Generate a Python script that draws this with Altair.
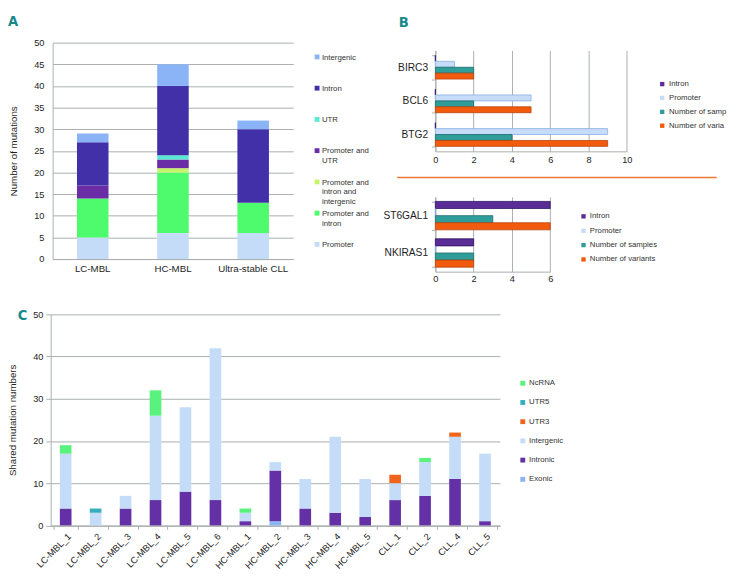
import altair as alt
import pandas as pd

FONT = "Liberation Sans"
LETTER_FONT = "Liberation Sans Narrow, DejaVu Sans Condensed, Liberation Sans"
TEAL = "#17898A"
GRID = "#A9ADAD"
AXIS_TXT = "#1E1E1E"
LEG_TXT = "#333333"

# ---------------- Panel A data ----------------
a_groups = ["LC-MBL", "HC-MBL", "Ultra-stable CLL"]
a_cats = ["Promoter", "Promoter and intron", "Promoter and intron and intergenic",
          "Promoter and UTR", "UTR", "Intron", "Intergenic"]
a_colors = ["#C5DCF8", "#4EFB6C", "#C8F46C", "#6A2DA6", "#5DE8D3", "#4130A8", "#8AB4F6"]
a_promoter = [5, 6, 6]
a_prom_intron = [9, 14, 7]
a_prom_intron_interg = [0, 1, 0]
a_prom_utr = [3, 2, 0]
a_utr = [0, 1, 0]
a_intron = [10, 16, 17]
a_intergenic = [2, 5, 2]

# ---------------- Panel B data ----------------
b_series = ["Intron", "Promoter", "Number of samples", "Number of variants"]
b_colors = ["#5A2C96", "#C7DCF8", "#2F9D99", "#F25B0D"]
b_strokes = ["#2C1262", "#86AEE6", "#1D6B67", "#B8420A"]
bt_genes = ["BIRC3", "BCL6", "BTG2"]
bt_intron = [0, 0, 0]
bt_promoter = [1, 5, 9]
bt_samples = [2, 2, 4]
bt_variants = [2, 5, 9]
bb_genes = ["ST6GAL1", "NKIRAS1"]
bb_intron = [6, 2]
bb_promoter = [0, 0]
bb_samples = [3, 2]
bb_variants = [6, 2]

# ---------------- Panel C data ----------------
c_samples = ["LC-MBL_1", "LC-MBL_2", "LC-MBL_3", "LC-MBL_4", "LC-MBL_5", "LC-MBL_6",
             "HC-MBL_1", "HC-MBL_2", "HC-MBL_3", "HC-MBL_4", "HC-MBL_5",
             "CLL_1", "CLL_2", "CLL_4", "CLL_5"]
c_cats = ["Exonic", "Intronic", "Intergenic", "UTR3", "UTR5", "NcRNA"]
c_colors = ["#8AB4F2", "#6430A6", "#C5DCF8", "#F0641E", "#35AFBC", "#58F27C"]
c_exonic = [0, 0, 0, 0, 0, 0, 0, 1, 0, 0, 0, 0, 0, 0, 0]
c_intronic = [4, 0, 4, 6, 8, 6, 1, 12, 4, 3, 2, 6, 7, 11, 1]
c_intergenic = [13, 3, 3, 20, 20, 36, 2, 2, 7, 18, 9, 4, 8, 10, 16]
c_utr3 = [0, 0, 0, 0, 0, 0, 0, 0, 0, 0, 0, 2, 0, 1, 0]
c_utr5 = [0, 1, 0, 0, 0, 0, 0, 0, 0, 0, 0, 0, 0, 0, 0]
c_ncrna = [2, 0, 0, 6, 0, 0, 1, 0, 0, 0, 0, 0, 1, 0, 0]


def frame(x1, x2, y1, y2):
    # invisible box that fixes the extent of a panel in the layout
    return alt.Chart(pd.DataFrame({"f": [0]})).mark_rect(
        fillOpacity=0, strokeOpacity=0
    ).encode(x=alt.value(x1), x2=alt.value(x2), y=alt.value(y1), y2=alt.value(y2))


def letter(ch, x, y):
    return alt.Chart(pd.DataFrame({"t": [ch]})).mark_text(
        font=LETTER_FONT, fontSize=15, fontWeight="bold", color=TEAL,
        align="center", baseline="middle"
    ).encode(text="t:N", x=alt.value(x), y=alt.value(y))


def spacer(*extra):
    return alt.layer(frame(0, 1, 0, 1), *extra).properties(width=1, height=1)


# ---------------- Panel A ----------------
A_W, A_H = 248, 223
a_rows = []
for k, (cat, vals) in enumerate(zip(a_cats, [a_promoter, a_prom_intron, a_prom_intron_interg,
                                             a_prom_utr, a_utr, a_intron, a_intergenic])):
    for g, v in zip(a_groups, vals):
        a_rows.append({"group": g, "a_region": cat, "a_n": v, "a_k": k})
a_df = pd.DataFrame(a_rows)

a_label_expr = ("datum.label == 'Promoter and UTR' ? ['Promoter and', 'UTR'] : "
                "datum.label == 'Promoter and intron and intergenic' ? "
                "['Promoter and', 'intron and', 'intergenic'] : "
                "datum.label == 'Promoter and intron' ? ['Promoter and', 'intron'] : datum.label")

a_bars = alt.Chart(a_df).mark_bar(size=32.5).encode(
    x=alt.X("group:N", sort=a_groups, title=None,
            axis=alt.Axis(labelAngle=0, ticks=False, domainColor=GRID, labelFontSize=10,
                          labelPadding=5, labelColor=AXIS_TXT)),
    y=alt.Y("a_n:Q", stack="zero", scale=alt.Scale(domain=[0, 50], nice=False),
            axis=alt.Axis(values=list(range(0, 51, 5)), title="Number of mutations",
                          titleFontSize=10, titleFontWeight="normal", titlePadding=16,
                          titleColor=AXIS_TXT, labelFontSize=9.5, labelPadding=9, ticks=False,
                          labelFlush=False, domainColor=GRID, gridColor=GRID,
                          labelColor=AXIS_TXT)),
    color=alt.Color("a_region:N", scale=alt.Scale(domain=a_cats[::-1], range=a_colors[::-1]),
                    legend=alt.Legend(title=None, orient="none", legendX=A_W + 20.5, legendY=13.6,
                                      symbolType="M-1,-2.16H1V-0.16H-1Z", symbolSize=25,
                                      symbolStrokeWidth=0, labelFontSize=8,
                                      labelBaseline="alphabetic", labelOffset=1,
                                      gridAlign="all", rowPadding=4.2, labelExpr=a_label_expr,
                                      labelColor=LEG_TXT, padding=0, labelLimit=300)),
    order=alt.Order("a_k:Q"),
)
panel_a = alt.layer(frame(-46, 300, -29, 245), a_bars, letter("A", -40.7, -22)).properties(
    width=A_W, height=A_H)


# ---------------- Panel B ----------------
def b_frame_df(genes, series_vals, p):
    rows = []
    for s, vals in zip(b_series, series_vals):
        for g, v in zip(genes, vals):
            rows.append({p + "gene": g, p + "series": s, p + "n": v})
    return pd.DataFrame(rows)


def b_bars(df, p, genes, xmax, pad_inner, lab_pad, legend):
    return alt.Chart(df).mark_bar(strokeWidth=0.8).encode(
        y=alt.Y(p + "gene:N", sort=genes, title=None,
                scale=alt.Scale(paddingInner=pad_inner, paddingOuter=pad_inner / 2),
                axis=alt.Axis(labelFontSize=10.5, labelColor=AXIS_TXT, domainColor=GRID,
                              tickColor=GRID, tickBand="extent", tickSize=4, labelPadding=4)),
        yOffset=alt.YOffset(p + "series:N", sort=b_series,
                            scale=alt.Scale(paddingInner=0, paddingOuter=0)),
        x=alt.X(p + "n:Q", scale=alt.Scale(domain=[0, xmax], nice=False), title=None,
                axis=alt.Axis(values=list(range(0, xmax + 1, 2)), grid=True, gridColor=GRID,
                              domainColor=GRID, ticks=False, labelFontSize=9.5, labelFlush=False,
                              labelPadding=lab_pad, labelColor=AXIS_TXT)),
        color=alt.Color(p + "series:N", scale=alt.Scale(domain=b_series, range=b_colors),
                        legend=legend),
        stroke=alt.Stroke(p + "series:N", scale=alt.Scale(domain=b_series, range=b_strokes),
                          legend=None),
    )


bt_df = b_frame_df(bt_genes, [bt_intron, bt_promoter, bt_samples, bt_variants], "bt_")
bb_df = b_frame_df(bb_genes, [bb_intron, bb_promoter, bb_samples, bb_variants], "bb_")

bt_label_expr = ("datum.label == 'Number of samples' ? 'Number of samp' : "
                 "datum.label == 'Number of variants' ? 'Number of varia' : datum.label")

BT_W, BT_H = 197.3, 104
BB_W, BB_H = 118.4, 77

bt_legend = alt.Legend(title=None, orient="none", legendX=229.8, legendY=30.7, symbolType="square",
                       symbolSize=20, symbolStrokeWidth=0, labelFontSize=8, labelOffset=3,
                       rowPadding=6.3, labelExpr=bt_label_expr, labelColor=LEG_TXT, padding=0)
bb_legend = alt.Legend(title=None, orient="none", legendX=148.7, legendY=16, symbolType="square",
                       symbolSize=20, symbolStrokeWidth=0, labelFontSize=8, labelOffset=2.5,
                       rowPadding=6.8, labelColor=LEG_TXT, padding=0)

divider = alt.Chart(pd.DataFrame({"r": [0]})).mark_rule(color="#F07A3A", strokeWidth=1.5).encode(
    x=alt.value(-39.3), x2=alt.value(290), y=alt.value(-20))

panel_bt = alt.layer(frame(-58, 200, -6, 124.3),
                     b_bars(bt_df, "bt_", bt_genes, 10, 0.296, 4, bt_legend)).properties(
    width=BT_W, height=BT_H)
panel_bb = alt.layer(frame(-58, 100, -26, BB_H + 30), divider,
                     b_bars(bb_df, "bb_", bb_genes, 6, 0.24, 2.5, bb_legend)).properties(
    width=BB_W, height=BB_H)

# ---------------- Panel C ----------------
C_W, C_H = 463, 217.5
c_rows = []
for k, (cat, vals) in enumerate(zip(c_cats, [c_exonic, c_intronic, c_intergenic,
                                             c_utr3, c_utr5, c_ncrna])):
    for s, v in zip(c_samples, vals):
        c_rows.append({"sample": s, "c_region": cat, "c_n": v, "c_k": k})
c_df = pd.DataFrame(c_rows)

c_bars = alt.Chart(c_df).mark_bar(size=12).encode(
    x=alt.X("sample:N", sort=c_samples, title=None,
            axis=alt.Axis(labelAngle=315, tickBand="extent", tickSize=4, tickColor=GRID,
                          domainColor=GRID, labelFontSize=9.5, labelPadding=2,
                          labelColor=AXIS_TXT)),
    y=alt.Y("c_n:Q", stack="zero", scale=alt.Scale(domain=[0, 50], nice=False),
            axis=alt.Axis(values=[0, 10, 20, 30, 40, 50], title="Shared mutation numbers",
                          titleFontSize=10, titleFontWeight="normal", titlePadding=15.4,
                          titleColor=AXIS_TXT, tickSize=5, tickColor=GRID, domainColor=GRID,
                          gridColor=GRID, labelPadding=3, labelFontSize=9.5, labelFlush=False,
                          labelColor=AXIS_TXT)),
    color=alt.Color("c_region:N", scale=alt.Scale(domain=c_cats[::-1], range=c_colors[::-1]),
                    legend=alt.Legend(title=None, orient="none", legendX=482.5, legendY=67,
                                      symbolType="square", symbolSize=25, symbolStrokeWidth=0,
                                      labelFontSize=8, labelOffset=2.5, rowPadding=11.8,
                                      labelColor=LEG_TXT, padding=0)),
    order=alt.Order("c_k:Q"),
)
panel_c = alt.layer(frame(-44, 400, -10, 217.5), c_bars, letter("C", -29, 0.7)).properties(
    width=C_W, height=C_H)

# ---------------- Layout ----------------
IND = dict(color="independent", stroke="independent", x="independent", y="independent",
           yOffset="independent")
LEG = dict(color="independent", stroke="independent")


def hc(*charts, spacing):
    return alt.hconcat(*charts, spacing=spacing).resolve_scale(**IND).resolve_legend(**LEG)


def vc(*charts, spacing):
    return alt.vconcat(*charts, spacing=spacing).resolve_scale(**IND).resolve_legend(**LEG)


b_head = spacer(letter("B", -32.7, -21))
b_body = vc(panel_bt, panel_bb, spacing=0)
b_col = vc(b_head, b_body, spacing=1)
a_wrap = hc(spacer(), panel_a, spacing=0)
top_row = hc(a_wrap, b_col, spacing=9.4)
c_row = hc(spacer(), panel_c, spacing=0)

chart = vc(top_row, c_row, spacing=4).properties(
    padding={"left": -1, "top": -2, "right": 0, "bottom": 0}
).configure_view(stroke=None).configure_axis(
    labelFont=FONT, titleFont=FONT
).configure_legend(labelFont=FONT).configure_scale(bandPaddingInner=0.2)

chart.save("out.html", embed_options={"renderer": "svg", "actions": False})
